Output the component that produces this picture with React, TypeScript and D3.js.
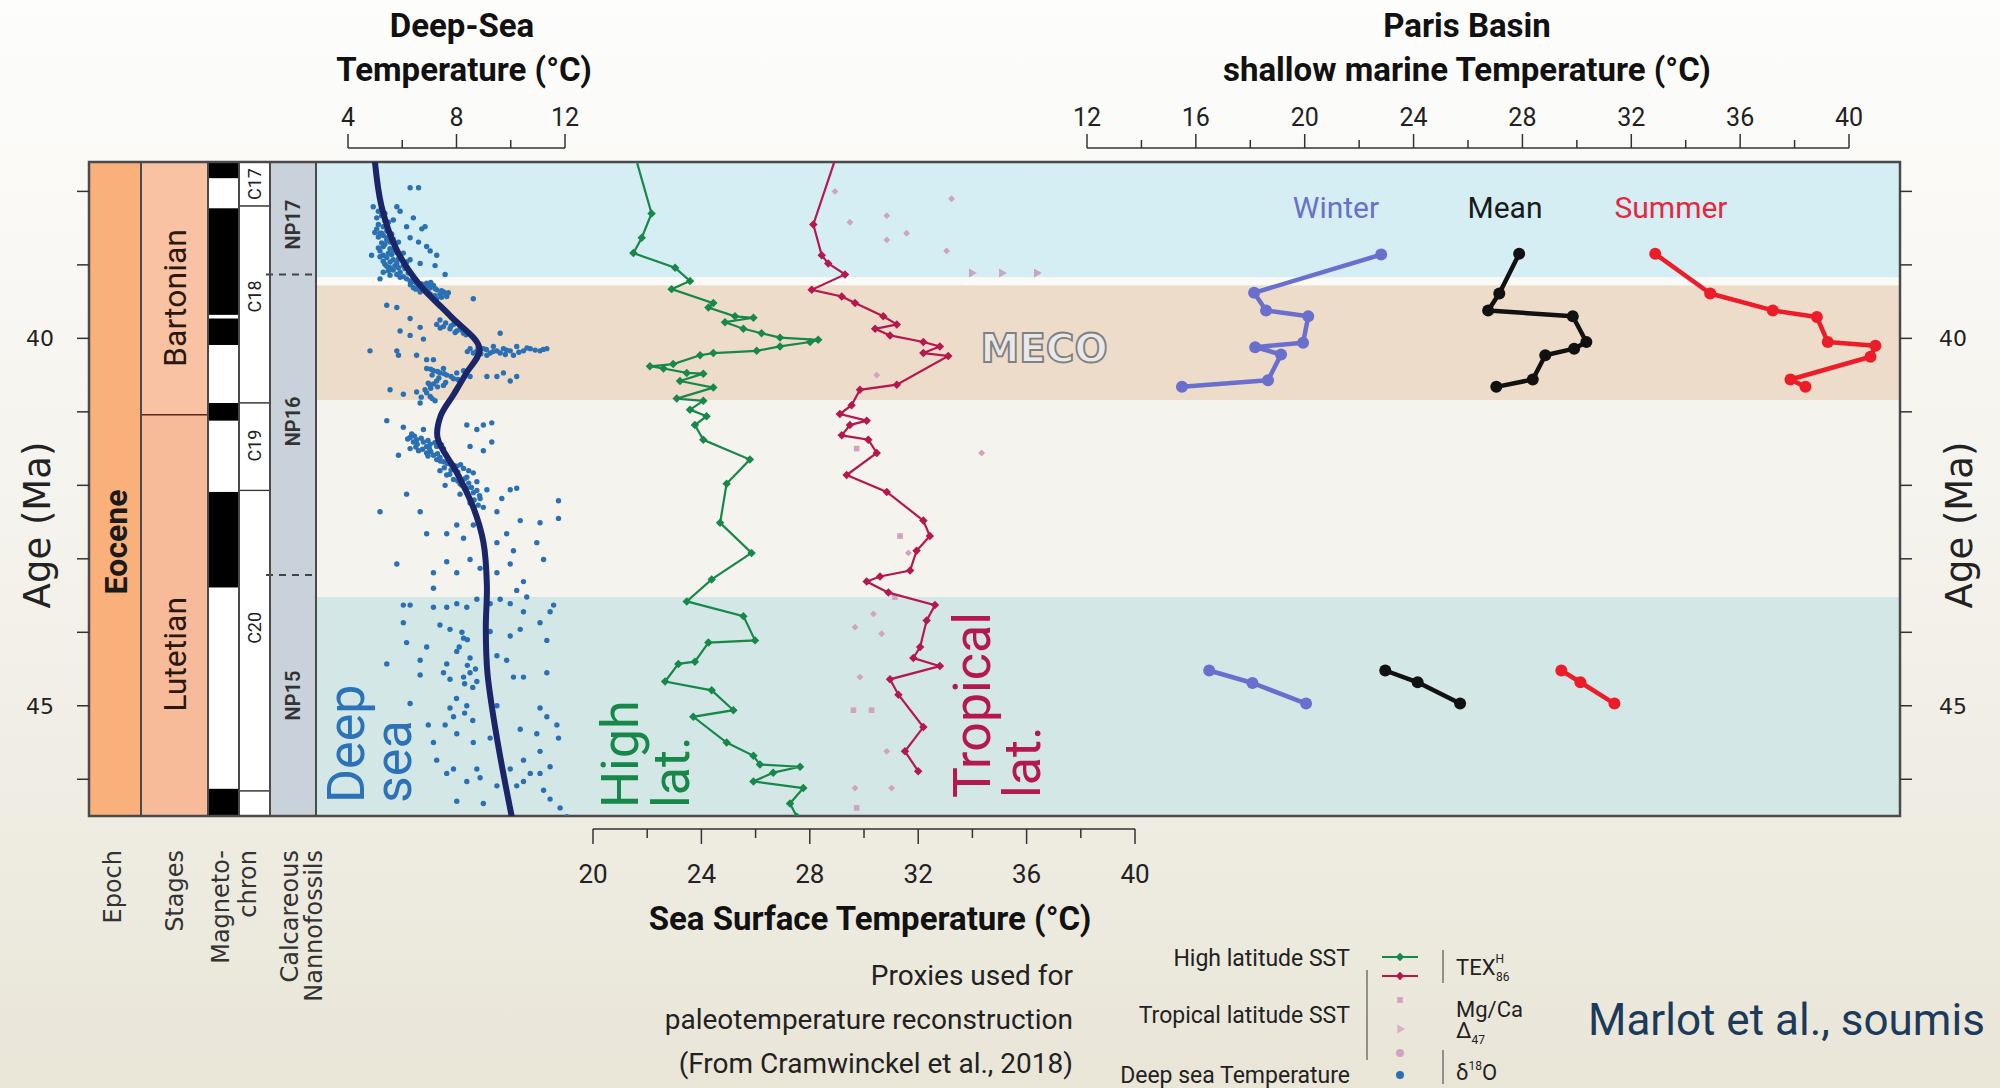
import React from 'react';
import * as d3 from 'd3';

const W = 2000;
const H = 1088;

// ---- data: [age (Ma), temperature (°C)] ----

// benthic δ18O derived deep-sea temperatures
const deepSeaPoints: [number, number][] = [
  [37.95,6.29],[37.95,6.60],[38.36,6.41],[38.48,6.16],[38.51,6.72],[38.48,6.84],[38.21,4.93],[38.87,4.87],
  [38.21,5.80],[38.27,5.92],[38.39,5.67],[38.57,5.24],[38.63,5.43],[38.75,5.30],[38.69,5.55],[38.63,6.29],
  [38.69,6.60],[38.75,6.90],[38.81,7.03],[38.87,7.27],[38.98,6.66],[38.93,6.29],[39.01,6.04],[39.13,7.58],
  [39.01,7.21],[39.04,5.55],[39.10,5.30],[39.19,5.18],
  [38.51,5.06],[38.57,5.18],[38.60,5.30],[38.66,5.43],[38.72,5.36],[38.78,5.55],[38.84,5.49],[38.90,5.43],
  [38.93,5.67],[38.96,5.55],[39.01,5.73],[39.04,5.86],[39.07,5.67],[39.10,5.92],[39.13,5.80],[39.16,6.04],
  [39.19,6.16],[38.81,5.18],[38.87,5.30],[38.99,5.36],[38.45,5.12],[38.33,5.24],[38.27,5.12],[38.42,5.49],
  [38.69,5.86],[38.84,6.04],[38.96,6.16],
  [38.48,5.30],[38.54,5.43],[38.58,5.61],[38.62,5.12],[38.65,5.67],[38.70,5.24],[38.74,5.73],[38.77,5.12],
  [38.80,5.67],[38.83,5.80],[38.86,5.61],[38.89,5.18],[38.92,5.86],[38.95,5.30],[38.98,5.80],[39.02,5.43],
  [39.05,6.10],[39.08,5.49],[39.11,6.22],[39.14,5.55],[39.17,5.92],[38.56,4.99],[38.40,5.36],[38.36,5.06],
  [38.30,5.36],
  [39.22,6.29],[39.25,6.53],[39.28,6.78],[39.31,7.03],[39.34,7.27],[39.37,7.52],[39.28,7.15],[39.34,6.84],
  [39.40,7.39],[39.43,7.64],[39.31,6.41],[39.37,6.66],[39.40,7.03],[39.46,7.27],[39.25,6.90],
  [39.23,6.45],[39.26,6.72],[39.29,6.96],[39.32,7.21],[39.35,7.45],[39.38,7.70],[39.24,7.05],[39.30,6.60],
  [39.36,6.95],[39.42,7.20],[39.44,7.45],[39.27,6.30],[39.33,6.50],[39.39,7.60],
  [39.81,7.27],[39.84,7.52],[39.87,7.76],[39.90,8.01],[39.93,8.26],[39.81,7.89],[39.87,8.13],[39.75,7.39],
  [39.79,7.60],[39.83,7.80],[39.86,7.40],[39.89,8.20],[39.92,7.95],[39.95,8.35],
  [40.14,8.50],[40.17,8.75],[40.14,8.99],[40.20,9.24],[40.17,9.49],[40.14,9.73],[40.17,9.98],[40.11,10.22],
  [40.17,10.47],[40.14,10.72],[40.17,11.08],[40.14,11.33],[40.20,8.62],[40.23,9.12],[40.20,9.61],[40.11,9.36],
  [40.23,10.10],
  [40.12,8.80],[40.15,9.10],[40.18,9.35],[40.16,9.85],[40.19,10.30],[40.13,10.60],[40.16,10.90],[40.15,11.20],
  [40.21,8.90],[40.18,8.40],[40.22,9.80],
  [39.55,5.43],[39.58,5.80],[39.73,6.29],[39.90,5.92],[39.96,6.29],[39.85,6.66],[40.01,6.78],[40.17,4.81],
  [40.17,5.80],[40.23,5.86],[40.23,6.53],[40.29,6.90],[40.29,7.15],[40.41,7.52],[40.47,8.01],[40.52,8.50],
  [40.52,9.12],[40.47,9.73],[40.58,9.98],[40.52,10.22],[39.93,9.61],[39.46,8.62],[40.70,5.55],[40.76,6.04],
  [40.73,6.53],[40.64,7.03],[40.88,6.66],[40.52,9.49],
  [40.41,6.90],[40.44,7.15],[40.47,7.39],[40.50,7.64],[40.55,7.89],[40.58,8.13],[40.44,8.26],[40.58,7.27],
  [40.64,7.52],[40.61,6.96],[40.70,6.84],[40.79,7.03],[40.85,7.21],
  [40.42,7.05],[40.45,7.30],[40.48,7.55],[40.52,7.80],[40.56,8.05],[40.50,7.10],[40.54,7.35],[40.60,7.60],
  [40.62,7.15],[40.66,7.30],[40.68,7.05],[40.74,6.90],[40.80,6.70],[40.82,7.10],
  [41.12,5.43],[41.21,6.04],[41.24,6.78],[41.18,8.38],[41.24,8.75],[41.18,8.99],[41.15,9.30],[41.59,5.86],
  [41.41,9.30],[41.53,8.99],[41.50,6.29],[41.47,8.50],[42.12,6.16],[42.36,5.18],[42.36,6.66],[42.66,6.90],
  [42.66,7.64],[42.54,8.01],[42.72,8.26],[42.54,8.62],[42.36,9.49],[42.18,9.67],[42.06,9.98],[42.04,10.22],
  [42.21,11.76],[42.45,11.76],[42.48,10.35],[42.51,11.08],[42.78,10.96],[43.01,11.21],[43.07,9.98],[43.31,10.47],
  [43.52,10.59],[43.43,10.22],[43.19,9.49],[43.13,8.87],[43.01,8.50],[43.19,8.01],[43.04,7.64],[43.19,7.15],
  [43.40,7.15],[43.07,5.80],[42.78,9.49],[42.89,10.10],[42.66,9.85],
  [41.35,6.29],[41.38,6.53],[41.41,6.78],[41.44,7.03],[41.47,7.27],[41.50,7.52],[41.53,6.60],[41.56,6.90],
  [41.59,7.15],[41.41,6.41],[41.47,6.90],[41.62,7.39],
  [41.33,6.45],[41.36,6.70],[41.39,6.95],[41.42,7.20],[41.45,7.45],[41.48,6.50],[41.51,6.75],[41.54,7.05],
  [41.57,7.30],[41.60,6.95],[41.37,6.20],[41.44,6.55],[41.50,7.00],[41.30,6.35],
  [41.65,7.27],[41.68,7.52],[41.71,7.76],[41.74,8.01],[41.80,7.39],[41.86,7.64],[41.92,7.89],[41.98,8.13],
  [42.04,8.38],[42.10,8.62],[42.18,8.87],[41.77,8.26],[41.89,8.38],[42.00,7.58],[42.12,8.13],[42.24,8.50],
  [42.30,8.99],[41.83,8.62],[41.95,8.75],[42.06,9.12],
  [41.67,7.40],[41.70,7.65],[41.73,7.90],[41.76,7.55],[41.79,7.80],[41.82,8.05],[41.85,7.75],[41.88,8.10],
  [41.91,8.30],[41.94,8.05],[41.97,8.45],[42.00,8.20],[42.03,8.55],[42.07,8.75],[42.10,8.40],[42.14,8.85],
  [42.20,8.65],[42.27,8.80],[41.72,8.15],[41.80,8.45],
  [43.63,6.04],[43.63,6.29],[43.66,7.15],[43.66,7.64],[43.61,8.01],[43.66,8.38],[43.55,8.75],[43.61,9.24],
  [43.55,9.61],[43.61,9.98],[43.72,10.47],[43.63,11.58],[43.72,11.45],[43.87,11.08],[43.87,6.04],[43.90,7.39],
  [43.96,7.76],[44.08,8.26],[43.99,9.24],[44.05,9.98],[43.96,10.35],[44.11,11.33],[44.14,6.16],[44.20,6.90],
  [44.26,8.01],[44.35,8.50],[44.32,9.49],[44.38,9.85],[44.43,5.43],[44.38,6.66],[44.43,7.64],[44.55,7.52],
  [44.55,8.50],[44.64,7.76],[44.61,8.26],[44.67,8.75],[44.61,10.10],[44.61,10.47],[44.55,11.33],[44.58,6.66],
  [44.97,6.29],[45.03,7.76],[45.00,8.38],[45.15,7.89],[45.00,9.49],[45.03,11.08],[45.15,11.33],[45.26,6.96],
  [45.26,7.58],[45.38,8.01],[45.50,8.62],[45.32,10.35],[45.38,10.96],[45.26,11.70],[45.44,11.76],[45.50,7.15],
  [45.44,9.24],[45.74,7.27],[45.86,7.89],[45.86,8.75],[45.98,8.87],[45.86,9.98],[45.74,10.47],[45.62,11.08],
  [45.83,11.45],[45.92,10.72],[45.92,11.08],[45.92,7.64],[46.03,8.38],[46.09,9.49],[46.09,10.22],[46.03,10.47],
  [46.15,11.21],[46.30,8.01],[46.33,8.99],[46.27,11.45],[46.39,11.82],[46.51,12.07],
  [44.00,8.20],[44.10,8.40],[44.20,8.10],[44.45,8.40],[44.50,8.70],[44.70,8.30],[44.75,8.60],[44.90,8.00],
  [45.10,8.30],[45.20,8.60],
];

// smoothed deep-sea curve
const deepSeaTrend: [number, number][] = [
  [37.55,4.98],[38.21,5.24],[38.80,5.80],[39.28,6.66],[39.69,7.76],[40.14,8.85],[40.48,8.35],[40.76,7.90],
  [41.05,7.42],[41.35,7.30],[41.82,8.00],[42.30,8.62],[42.77,8.99],[43.36,9.12],[43.95,9.08],[44.55,9.14],
  [45.44,9.49],[46.55,10.06],
];

// TEX86H sea surface temperatures
const highLatSST: [number, number][] = [
  [37.55,21.58],[38.30,22.16],[38.63,21.80],[38.84,21.49],[39.04,23.03],[39.22,23.58],[39.33,22.90],[39.52,24.44],
  [39.58,24.26],[39.70,25.24],[39.72,25.92],[39.78,24.87],[39.87,25.55],[39.93,26.22],[39.99,26.90],[40.02,28.31],
  [40.05,28.01],[40.11,26.90],[40.17,26.04],[40.20,24.44],[40.23,23.95],[40.35,22.96],[40.38,22.10],[40.41,22.60],
  [40.47,23.46],[40.48,24.07],[40.58,23.21],[40.67,24.44],[40.82,23.09],[40.85,24.07],[40.97,23.58],[41.06,24.19],
  [41.18,23.76],[41.38,24.07],[41.65,25.79],[41.98,24.93],[42.51,24.69],[42.92,25.85],[43.28,24.38],[43.58,23.46],
  [43.78,25.55],[44.11,25.98],[44.14,24.26],[44.40,23.76],[44.43,23.15],[44.67,22.66],[44.79,24.38],[45.06,25.18],
  [45.15,23.70],[45.50,24.93],[45.68,25.92],[45.80,26.16],[45.83,27.64],[45.91,26.65],[46.03,25.92],[46.12,27.76],
  [46.33,27.27],[46.51,27.52],
];

const tropicalSST: [number, number][] = [
  [37.55,28.95],[38.45,28.13],[38.87,28.44],[38.98,28.68],[39.13,29.30],[39.34,28.07],[39.43,29.18],[39.52,29.67],
  [39.70,30.71],[39.81,31.21],[39.87,30.41],[39.96,30.96],[40.05,32.19],[40.11,32.80],[40.20,32.19],[40.24,33.11],
  [40.63,31.21],[40.70,29.85],[40.91,29.54],[41.03,29.11],[41.12,30.10],[41.18,29.48],[41.32,29.18],[41.38,30.16],
  [41.56,30.47],[41.86,29.36],[42.09,30.84],[42.48,32.19],[42.69,32.43],[42.89,31.94],[43.16,31.70],[43.24,30.59],
  [43.31,30.10],[43.46,30.90],[43.63,32.62],[43.84,32.31],[44.20,32.07],[44.35,31.82],[44.46,32.80],[44.64,30.96],
  [44.85,31.27],[45.29,32.19],[45.62,31.51],[45.89,32.00],
];

// other tropical proxies
const tropicalDots: [number, number][] = [
  [38.00,28.93],[38.42,29.48],[38.33,30.84],[38.66,30.84],[38.57,31.57],[38.10,33.23],[38.81,33.05],[40.50,30.47],
  [41.56,34.34],[42.92,31.64],[43.75,30.35],[43.93,29.67],[44.02,30.65],[44.61,29.85],[45.62,30.84],[46.12,29.67],
  [46.12,31.02],
];
const tropicalMgCa: [number, number][] = [
  [41.50,29.73],[42.69,31.33],[43.52,31.14],[45.06,29.61],[45.06,30.28],[46.39,29.73],
];
const tropicalD47: [number, number][] = [[39.11,33.97],[39.11,35.08],[39.11,36.37]];

// Paris Basin shallow marine temperatures
const parisWinter: [number, number][][] = [
  [[38.86,22.81],[39.38,18.14],[39.62,18.58],[39.70,20.13],[40.06,19.94],[40.12,18.18],[40.22,19.13],[40.57,18.65],[40.66,15.49]],
  [[44.52,16.49],[44.69,18.08],[44.97,20.05]],
];
const parisMean: [number, number][][] = [
  [[38.85,27.88],[39.39,27.15],[39.62,26.74],[39.70,29.85],[40.05,30.35],[40.14,29.90],[40.23,28.84],[40.56,28.38],[40.66,27.04]],
  [[44.52,22.96],[44.68,24.15],[44.97,25.71]],
];
const parisSummer: [number, number][][] = [
  [[38.85,32.88],[39.39,34.90],[39.62,37.20],[39.71,38.82],[40.05,39.22],[40.10,40.97],[40.25,40.79],[40.56,37.85],[40.66,38.40]],
  [[44.52,29.43],[44.68,30.13],[44.97,31.38]],
];

// stratigraphy
const bandBreaks = [37.6, 39.17, 39.28, 40.84, 43.52, 46.5];
const epochLabelAt = 42.77;
const stages = [
  { name: 'Bartonian', from: 37.6, to: 41.04, labelAt: 39.45 },
  { name: 'Lutetian', from: 41.04, to: 46.5, labelAt: 44.3 },
];
const chronNormal: [number, number][] = [
  [37.6,37.82],[38.23,39.68],[39.73,40.09],[40.88,41.12],[42.09,43.39],[46.13,46.5],
];
const chrons = [
  { name: 'C17', from: 37.6, to: 38.2, labelAt: 37.9 },
  { name: 'C18', from: 38.2, to: 40.88, labelAt: 39.43 },
  { name: 'C19', from: 40.88, to: 42.07, labelAt: 41.46 },
  { name: 'C20', from: 42.07, to: 46.16, labelAt: 43.94 },
  { name: '', from: 46.16, to: 46.5, labelAt: 46.3 },
];
const nannoZones = [
  { name: 'NP17', from: 37.6, to: 39.13, labelAt: 38.45 },
  { name: 'NP16', from: 39.13, to: 43.22, labelAt: 41.13 },
  { name: 'NP15', from: 43.22, to: 46.5, labelAt: 44.86 },
];

const ageTicks = [38, 39, 40, 41, 42, 43, 44, 45, 46];
const ageLabels = [40, 45];
const deepTicks = [4, 8, 12];
const sstTicks = [20, 24, 28, 32, 36, 40];
const parisTicks = [12, 16, 20, 24, 28, 32, 36, 40];

const SANS = 'Roboto, "Open Sans", sans-serif';
const DJ = '"DejaVu Sans", Verdana, sans-serif';

export default function App() {
  const top = 162, bottom = 816, left = 89, right = 1900;
  const colEpoch = [89, 141], colStage = [141, 208], colChron = [208, 239], colChronLab = [239, 270], colNanno = [270, 316];
  const plotLeft = 316;

  const y = d3.scaleLinear().domain([37.6, 46.5]).range([top, bottom]);
  const xDeep = d3.scaleLinear().domain([4, 12]).range([348, 565]);
  const xSST = d3.scaleLinear().domain([20, 40]).range([593, 1135]);
  const xParis = d3.scaleLinear().domain([12, 40]).range([1087, 1849]);

  const bandColors = ['#d5eef4', '#fafaf7', '#eddcc9', '#f5f3ee', '#d3e8e6'];

  const trendLine = d3.line<[number, number]>().x(d => xDeep(d[1])).y(d => y(d[0])).curve(d3.curveCatmullRom.alpha(0.5));
  const sstLine = d3.line<[number, number]>().x(d => xSST(d[1])).y(d => y(d[0]));
  const parisLine = d3.line<[number, number]>().x(d => xParis(d[1])).y(d => y(d[0]));

  const diamond = d3.symbol().type(d3.symbolDiamond2).size(46)() as string;
  const smallDiamond = d3.symbol().type(d3.symbolDiamond2).size(30)() as string;
  const square = d3.symbol().type(d3.symbolSquare).size(32)() as string;
  const triangle = d3.symbol().type(d3.symbolTriangle).size(36)() as string;

  const green = '#17884a';
  const crimson = '#b5174f';
  const pink = '#d2a3c0';
  const blueDot = '#2a70b3';

  const minor = (a: number, b: number, step: number) => d3.range(a, b + 0.001, step);

  const rot = (x: number, yy: number) => `translate(${x},${yy}) rotate(-90)`;

  return (
    <svg width={W} height={H} style={{ position: 'absolute', left: 0, top: 0 }} fontFamily={SANS}>
      <defs>
        <linearGradient id="bg" x1="0" y1="0" x2="0" y2="1">
          <stop offset="0" stopColor="#fdfdfc" />
          <stop offset="0.55" stopColor="#f3f1ea" />
          <stop offset="1" stopColor="#e9e6d8" />
        </linearGradient>
        <clipPath id="plot">
          <rect x={plotLeft} y={top} width={right - plotLeft} height={bottom - top} />
        </clipPath>
      </defs>
      <rect width={W} height={H} fill="url(#bg)" />

      {/* background bands */}
      {bandColors.map((c, i) => (
        <rect key={i} x={plotLeft} y={y(bandBreaks[i])} width={right - plotLeft}
          height={y(bandBreaks[i + 1]) - y(bandBreaks[i])} fill={c} />
      ))}

      {/* epoch */}
      <rect x={colEpoch[0]} y={top} width={colEpoch[1] - colEpoch[0]} height={bottom - top} fill="#f9b07b" />
      <text transform={rot((colEpoch[0] + colEpoch[1]) / 2, y(epochLabelAt))} textAnchor="middle" dy="0.36em"
        fontSize={32} fontWeight={700} fill="#1a1a1a">Eocene</text>

      {/* stages */}
      {stages.map((s, i) => (
        <g key={s.name}>
          <rect x={colStage[0]} y={y(s.from)} width={colStage[1] - colStage[0]} height={y(s.to) - y(s.from)}
            fill={i === 0 ? '#f9c3a3' : '#f8bb99'} stroke="#5a2a1a" strokeWidth={1.5} />
          <text transform={rot((colStage[0] + colStage[1]) / 2, y(s.labelAt))} textAnchor="middle" dy="0.36em"
            fontSize={32} fill="#2a1810">{s.name}</text>
        </g>
      ))}

      {/* magnetochrons */}
      <rect x={colChron[0]} y={top} width={colChron[1] - colChron[0]} height={bottom - top} fill="#fff" />
      {chronNormal.map((c, i) => (
        <rect key={i} x={colChron[0]} y={y(c[0])} width={colChron[1] - colChron[0]} height={y(c[1]) - y(c[0])} fill="#000" />
      ))}
      {chrons.map(c => (
        <g key={c.from}>
          <rect x={colChronLab[0]} y={y(c.from)} width={colChronLab[1] - colChronLab[0]} height={y(c.to) - y(c.from)}
            fill="#fff" stroke="#333" strokeWidth={1.2} />
          <text transform={rot((colChronLab[0] + colChronLab[1]) / 2, y(c.labelAt))} textAnchor="middle" dy="0.36em"
            fontSize={18} fill="#222">{c.name}</text>
        </g>
      ))}

      {/* nannofossils */}
      <rect x={colNanno[0]} y={top} width={colNanno[1] - colNanno[0]} height={bottom - top} fill="#c9d2da" />
      {nannoZones.map((z, i) => (
        <g key={z.name}>
          {i > 0 && (
            <line x1={colNanno[0] - 4} x2={colNanno[1]} y1={y(z.from)} y2={y(z.from)} stroke="#444"
              strokeWidth={2} strokeDasharray="7,6" />
          )}
          <text transform={rot((colNanno[0] + colNanno[1]) / 2, y(z.labelAt))} textAnchor="middle" dy="0.36em"
            fontSize={20} fontWeight={600} fill="#333">{z.name}</text>
        </g>
      ))}

      {/* column separators and frame */}
      {[colEpoch[1], colStage[1], colChron[1], colChronLab[1], colNanno[1]].map(x => (
        <line key={x} x1={x} x2={x} y1={top} y2={bottom} stroke="#4a4a4a" strokeWidth={2} />
      ))}
      <rect x={left} y={top} width={right - left} height={bottom - top} fill="none" stroke="#4a4a4a" strokeWidth={2.5} />

      {/* data */}
      <g clipPath="url(#plot)">
        {deepSeaPoints.map((d, i) => (
          <circle key={i} cx={xDeep(d[1])} cy={y(d[0])} r={2.7} fill={blueDot} />
        ))}
        <path d={trendLine(deepSeaTrend) || ''} fill="none" stroke="#1b2668" strokeWidth={6} strokeLinecap="round" />

        {tropicalDots.map((d, i) => (
          <path key={i} d={smallDiamond} transform={`translate(${xSST(d[1])},${y(d[0])})`} fill={pink} />
        ))}
        {tropicalMgCa.map((d, i) => (
          <path key={i} d={square} transform={`translate(${xSST(d[1])},${y(d[0])})`} fill={pink} />
        ))}
        {tropicalD47.map((d, i) => (
          <path key={i} d={triangle} transform={`translate(${xSST(d[1])},${y(d[0])}) rotate(90)`} fill="#c6a6c2" />
        ))}

        <path d={sstLine(highLatSST) || ''} fill="none" stroke={green} strokeWidth={2.2} />
        {highLatSST.slice(1).map((d, i) => (
          <path key={i} d={diamond} transform={`translate(${xSST(d[1])},${y(d[0])})`} fill={green} />
        ))}
        <path d={sstLine(tropicalSST) || ''} fill="none" stroke={crimson} strokeWidth={2.2} />
        {tropicalSST.slice(1).map((d, i) => (
          <path key={i} d={diamond} transform={`translate(${xSST(d[1])},${y(d[0])})`} fill={crimson} />
        ))}

        {[
          { data: parisWinter, color: '#6a6fcd' },
          { data: parisMean, color: '#111111' },
          { data: parisSummer, color: '#ec1c28' },
        ].map(s => s.data.map((seg, j) => (
          <g key={s.color + j}>
            <path d={parisLine(seg) || ''} fill="none" stroke={s.color} strokeWidth={4.5} strokeLinejoin="round" />
            {seg.map((d, k) => (
              <circle key={k} cx={xParis(d[1])} cy={y(d[0])} r={6} fill={s.color} />
            ))}
          </g>
        )))}
      </g>

      {/* in-plot labels */}
      <g fontSize={52}>
        <text transform={rot(364, 803)} fill="#2b72b8">Deep</text>
        <text transform={rot(411, 803)} fill="#2b72b8">sea</text>
        <text transform={rot(638, 808)} fill={green}>High</text>
        <text transform={rot(689, 808)} fill={green}>lat.</text>
        <text transform={rot(990, 798)} fill={crimson}>Tropical</text>
        <text transform={rot(1040, 798)} fill={crimson}>lat.</text>
      </g>
      <text x={1044} y={362} textAnchor="middle" fontFamily={DJ} fontSize={39} fontWeight={700} fill="#e9e9e9"
        stroke="#808080" strokeWidth={1.8}>MECO</text>
      <g fontSize={30} textAnchor="middle">
        <text x={1336} y={218} fill="#6a6fc9">Winter</text>
        <text x={1505} y={218} fill="#1a1a1a">Mean</text>
        <text x={1671} y={218} fill="#e5283f">Summer</text>
      </g>

      {/* age axes */}
      {ageTicks.map(a => (
        <g key={a}>
          <line x1={left - 12} x2={left} y1={y(a)} y2={y(a)} stroke="#333" strokeWidth={1.5} />
          <line x1={right} x2={right + 12} y1={y(a)} y2={y(a)} stroke="#333" strokeWidth={1.5} />
        </g>
      ))}
      {ageLabels.map(a => (
        <g key={a} fontFamily={DJ} fontSize={22} fill="#222" textAnchor="middle">
          <text x={40} y={y(a)} dy="0.36em">{a}</text>
          <text x={1953} y={y(a)} dy="0.36em">{a}</text>
        </g>
      ))}
      <text transform={rot(50, 525)} textAnchor="middle" fontFamily={DJ} fontSize={37} fill="#222">Age (Ma)</text>
      <text transform={rot(1972, 525)} textAnchor="middle" fontFamily={DJ} fontSize={37} fill="#222">Age (Ma)</text>

      {/* top deep-sea axis */}
      <text x={462} y={37} textAnchor="middle" fontSize={33} fontWeight={700} fill="#111">Deep-Sea</text>
      <text x={464} y={81} textAnchor="middle" fontSize={33} fontWeight={700} fill="#111">Temperature (°C)</text>
      <line x1={xDeep(4)} x2={xDeep(12)} y1={148} y2={148} stroke="#333" strokeWidth={1.5} />
      {minor(4, 12, 2).map(t => (
        <line key={t} x1={xDeep(t)} x2={xDeep(t)} y1={148} y2={t % 4 === 0 ? 134 : 140} stroke="#333" strokeWidth={1.5} />
      ))}
      {deepTicks.map(t => (
        <text key={t} x={xDeep(t)} y={126} textAnchor="middle" fontSize={25} fill="#222">{t}</text>
      ))}

      {/* top Paris Basin axis */}
      <text x={1467} y={37} textAnchor="middle" fontSize={33} fontWeight={700} fill="#111">Paris Basin</text>
      <text x={1467} y={81} textAnchor="middle" fontSize={33} fontWeight={700} fill="#111">shallow marine Temperature (°C)</text>
      <line x1={xParis(12)} x2={xParis(40)} y1={148} y2={148} stroke="#333" strokeWidth={1.5} />
      {minor(12, 40, 2).map(t => (
        <line key={t} x1={xParis(t)} x2={xParis(t)} y1={148} y2={t % 4 === 0 ? 134 : 140} stroke="#333" strokeWidth={1.5} />
      ))}
      {parisTicks.map(t => (
        <text key={t} x={xParis(t)} y={126} textAnchor="middle" fontSize={25} fill="#222">{t}</text>
      ))}

      {/* bottom SST axis */}
      <line x1={xSST(20)} x2={xSST(40)} y1={829} y2={829} stroke="#333" strokeWidth={1.5} />
      {minor(20, 40, 2).map(t => (
        <line key={t} x1={xSST(t)} x2={xSST(t)} y1={829} y2={t % 4 === 0 ? 844 : 838} stroke="#333" strokeWidth={1.5} />
      ))}
      {sstTicks.map(t => (
        <text key={t} x={xSST(t)} y={883} textAnchor="middle" fontSize={26} fill="#222">{t}</text>
      ))}
      <text x={870} y={930} textAnchor="middle" fontSize={33} fontWeight={700} fill="#111">Sea Surface Temperature (°C)</text>

      {/* column captions */}
      <g fontFamily={DJ} fontSize={24} fill="#333" textAnchor="end">
        <text transform={rot(121, 850)}>Epoch</text>
        <text transform={rot(183, 850)}>Stages</text>
        <text transform={rot(229, 850)}>Magneto-</text>
        <text transform={rot(256, 850)}>chron</text>
        <text transform={rot(298, 850)}>Calcareous</text>
        <text transform={rot(322, 850)}>Nannofossils</text>
      </g>

      {/* proxy notes */}
      <g fontSize={28} fill="#222" textAnchor="end">
        <text x={1073} y={985}>Proxies used for</text>
        <text x={1073} y={1029}>paleotemperature reconstruction</text>
        <text x={1073} y={1073}>(From Cramwinckel et al., 2018)</text>
      </g>

      {/* legend */}
      <g fontSize={23} fill="#222" textAnchor="end">
        <text x={1350} y={966}>High latitude SST</text>
        <text x={1350} y={1023}>Tropical latitude SST</text>
        <text x={1350} y={1083}>Deep sea Temperature</text>
      </g>
      <line x1={1367} x2={1367} y1={970} y2={1060} stroke="#555" strokeWidth={1.2} />
      <line x1={1443} x2={1443} y1={950} y2={983} stroke="#555" strokeWidth={1.2} />
      <line x1={1443} x2={1443} y1={1050} y2={1084} stroke="#555" strokeWidth={1.2} />
      <line x1={1382} x2={1418} y1={957} y2={957} stroke={green} strokeWidth={2} />
      <path d={diamond} transform="translate(1400,957)" fill={green} />
      <line x1={1382} x2={1418} y1={976} y2={976} stroke={crimson} strokeWidth={2} />
      <path d={diamond} transform="translate(1400,976)" fill={crimson} />
      <path d={square} transform="translate(1400,1000)" fill={pink} />
      <path d={triangle} transform="translate(1400,1029) rotate(90)" fill="#d8b0c8" />
      <circle cx={1400} cy={1053} r={4} fill={pink} />
      <circle cx={1400} cy={1075} r={4} fill={blueDot} />
      <g fontSize={22} fill="#222">
        <text x={1456} y={975}>TEX<tspan fontSize={12} dy={-12}>H</tspan><tspan fontSize={12} dx={-8} dy={18}>86</tspan></text>
        <text x={1456} y={1017}>Mg/Ca</text>
        <text x={1456} y={1038}>Δ<tspan fontSize={12} dy={6}>47</tspan></text>
        <text x={1456} y={1080}>δ<tspan fontSize={12} dy={-10}>18</tspan><tspan dy={10}>O</tspan></text>
      </g>

      <text x={1588} y={1035} fontSize={44} fill="#1b3a5c">Marlot et al., soumis</text>
    </svg>
  );
}
